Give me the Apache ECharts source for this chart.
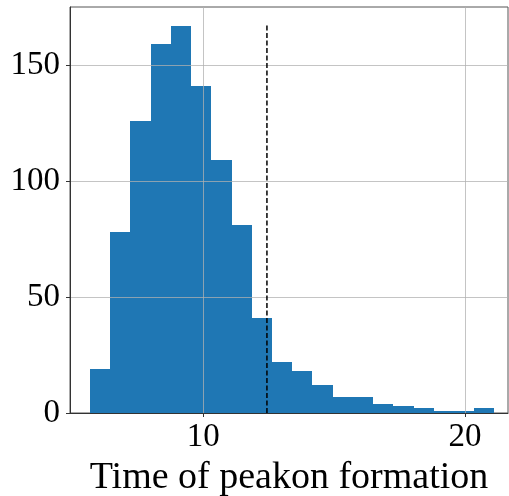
<!DOCTYPE html>
<html>
<head>
<meta charset="utf-8">
<script src="https://cdn.jsdelivr.net/npm/echarts@6/dist/echarts.min.js"></script>
<style>html,body{margin:0;padding:0;background:#fff}#c{width:509px;height:496px}</style>
</head>
<body>
<div id="c"></div>
<script>
// Histogram bin edges (time units) and counts per bin
const binEdges = [5.67, 6.44, 7.21, 7.99, 8.76, 9.53, 10.30, 11.08, 11.85, 12.62, 13.39,
                  14.16, 14.94, 15.71, 16.48, 17.25, 18.03, 18.80, 19.57, 20.34, 21.11];
const counts = [19, 78, 126, 159, 167, 141, 109, 81, 41, 22, 18, 12, 7, 7, 4, 3, 2, 1, 1, 2];
const xTicks = [10, 20];
const yTicks = [0, 50, 100, 150];
const markerX = 12.43;
const markerTop = 167;
const xLabel = 'Time of peakon formation';

const bars = counts.map((c, i) => [binEdges[i], binEdges[i + 1], c]);

const font = 'Liberation Serif';
const chart = echarts.init(document.getElementById('c'));
chart.setOption({
  animation: false,
  grid: { left: 70, right: 1, top: 7, bottom: 83, outerBoundsMode: 'none', containLabel: false,
          show: true, borderColor: '#555', borderWidth: 1, backgroundColor: 'transparent' },
  xAxis: {
    type: 'value', min: 4.906, max: 21.64, z: 5,
    axisLine: { show: true, lineStyle: { color: '#333', width: 1 } },
    axisTick: { show: true, customValues: xTicks, length: 4, lineStyle: { color: '#333' } },
    axisLabel: { customValues: xTicks, color: '#000', fontFamily: font, fontSize: 33, margin: 8 },
    splitLine: { show: true, lineStyle: { color: 'rgba(176,176,176,0.75)', width: 1 } },
    name: xLabel, nameLocation: 'middle', nameGap: 45,
    nameTextStyle: { color: '#000', fontFamily: font, fontSize: 38 }
  },
  yAxis: {
    type: 'value', min: 0, max: 175, z: 5,
    axisLine: { show: true, lineStyle: { color: '#333', width: 1 } },
    axisTick: { show: true, customValues: yTicks, length: 4, lineStyle: { color: '#333' } },
    axisLabel: { customValues: yTicks, color: '#000', fontFamily: font, fontSize: 33, margin: 10 },
    splitLine: { show: true, lineStyle: { color: 'rgba(176,176,176,0.75)', width: 1 } }
  },
  series: [
    {
      type: 'custom', z: 2,
      data: bars,
      renderItem: function (params, api) {
        const p0 = api.coord([api.value(0), 0]);
        const p1 = api.coord([api.value(1), api.value(2)]);
        const x0 = Math.round(p0[0]), x1 = Math.round(p1[0]);
        const yb = Math.round(p0[1]), yt = Math.round(p1[1]);
        return {
          type: 'rect',
          shape: { x: x0, y: yt, width: x1 - x0, height: yb - yt },
          style: { fill: '#1f77b4' }
        };
      }
    },
    {
      type: 'line', z: 6, symbol: 'none',
      data: [[markerX, 0], [markerX, markerTop]],
      lineStyle: { color: '#000', width: 1.5, type: [5, 2.5] }
    }
  ]
});
</script>
</body>
</html>
